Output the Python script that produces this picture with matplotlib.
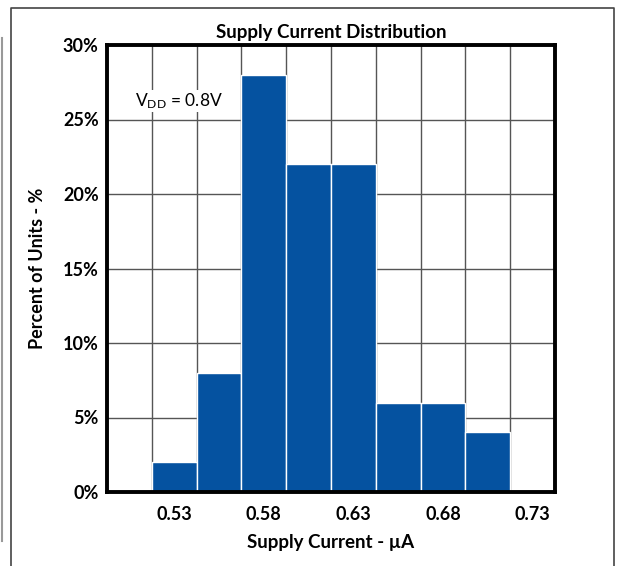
import matplotlib
matplotlib.use("Agg")
import matplotlib.pyplot as plt
from matplotlib.lines import Line2D

plt.rcParams['font.family'] = ['Lato', 'DejaVu Sans']
plt.rcParams['mathtext.default'] = 'regular'

# histogram bins (uA) and percent of units
bin_centers = [0.53, 0.555, 0.58, 0.605, 0.63, 0.655, 0.68, 0.705]
percent = [2, 8, 28, 22, 22, 6, 6, 4]
bin_width = 0.025
tick_values = [0.53, 0.58, 0.63, 0.68, 0.73]
tick_labels = ["0.53", "0.58", "0.63", "0.68", "0.73"]
y_ticks = [0, 5, 10, 15, 20, 25, 30]

fig = plt.figure(figsize=(6.19, 5.66), dpi=100)

# outer frame lines
fig.add_artist(Line2D([11/619, 11/619, 614/619, 614/619], [0, 1 - 8/566, 1 - 8/566, 0],
                      color='#444444', lw=1.2, transform=fig.transFigure))
fig.add_artist(Line2D([1.5/619, 1.5/619], [1 - 38/566, 1 - 541/566],
                      color='#999999', lw=1.5, transform=fig.transFigure))

ax = fig.add_axes([107/619, 1 - 492/566, 448/619, 447/566])

ax.bar(bin_centers, percent, width=bin_width, color='#0552A0', edgecolor='white',
       linewidth=1, zorder=3)

ax.set_xlim(bin_centers[0] - 1.5 * bin_width, bin_centers[-1] + 1.5 * bin_width)
ax.set_ylim(0, 30)

# grid on the bin boundaries
edges = [bin_centers[0] - 0.5 * bin_width + i * bin_width for i in range(9)]
ax.set_xticks(edges, minor=True)
ax.set_xticks(tick_values)
ax.set_xticklabels(tick_labels, fontsize=13, fontweight='bold')
ax.set_yticks(y_ticks)
ax.set_yticklabels([f"{v}%" for v in y_ticks], fontsize=13, fontweight='bold')
ax.tick_params(axis='both', which='both', length=0)
ax.tick_params(axis='x', pad=10)
ax.tick_params(axis='y', pad=6)
ax.grid(True, which='minor', axis='x', color='#555555', lw=1, zorder=1)
ax.grid(True, which='major', axis='y', color='#555555', lw=1, zorder=1)
ax.set_axisbelow(True)

for s in ax.spines.values():
    s.set_linewidth(2.8)
    s.set_color('black')
    s.set_zorder(5)

ax.set_title("Supply Current Distribution", fontsize=13.5, fontweight='bold', pad=5)
ax.set_xlabel("Supply Current - µA", fontsize=13.5, fontweight='bold', labelpad=8)
ax.set_ylabel("Percent of Units - %", fontsize=13, fontweight='bold', labelpad=12)

ax.text(0.063, 0.875, r"V$_{DD}$ = 0.8V", transform=ax.transAxes, fontsize=12.5,
        va='center', ha='left', zorder=6,
        bbox=dict(facecolor='white', edgecolor='none', pad=1))

fig.savefig("out.png", dpi=100)
